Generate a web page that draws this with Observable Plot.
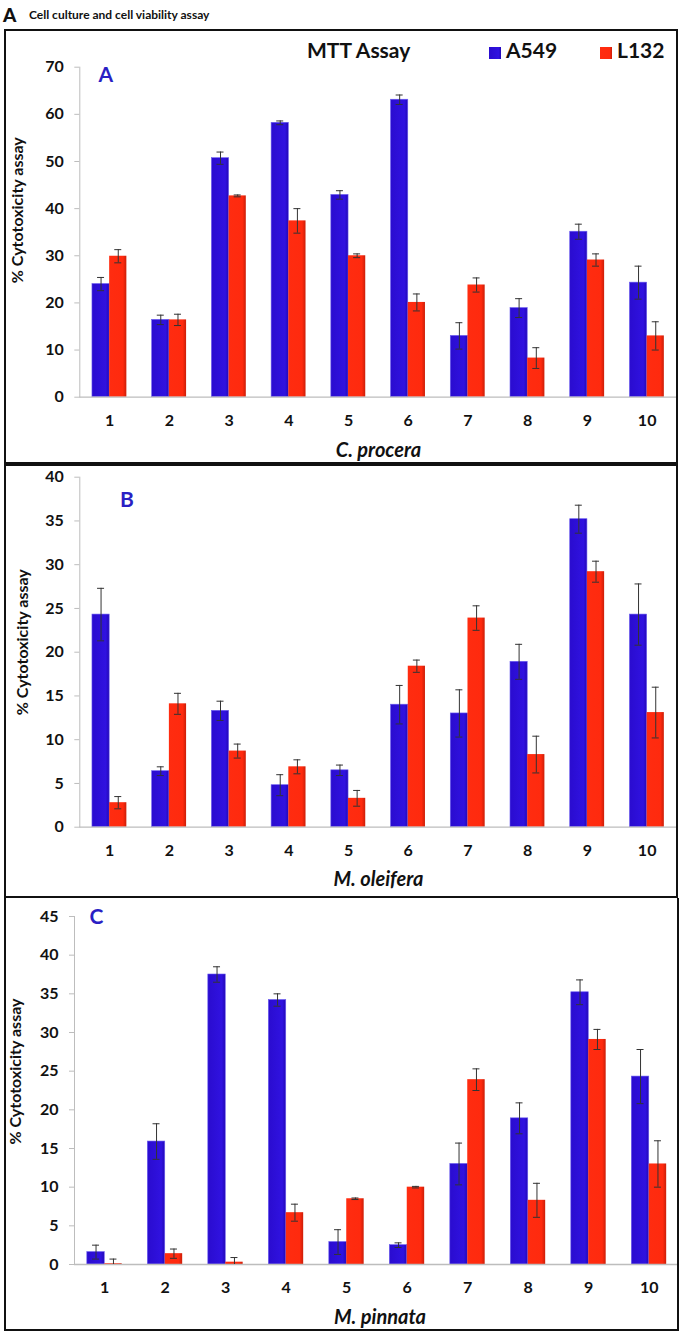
<!DOCTYPE html>
<html><head><meta charset="utf-8">
<script src="https://cdn.jsdelivr.net/npm/d3@7"></script>
<script src="https://cdn.jsdelivr.net/npm/@observablehq/plot@0.6"></script>
<style>
html,body{margin:0;padding:0;background:#fff;overflow:hidden;}
body{width:682px;height:1333px;position:relative;font-family:Lato,"Open Sans",sans-serif;color:#111;}
.abs{position:absolute;white-space:nowrap;}
.box{position:absolute;box-sizing:border-box;border:2px solid #111;pointer-events:none;z-index:5;}
.wrap{position:absolute;left:0;width:682px;}
.lg{font-weight:bold;font-size:21px;line-height:24px;z-index:6;}
.sq{position:absolute;width:12px;height:12px;z-index:6;}
</style></head><body>
<svg width="0" height="0" style="position:absolute">
<defs>
<linearGradient id="gBlue" x1="0" x2="1" y1="0" y2="0">
<stop offset="0" stop-color="#2a0ccf"/><stop offset="0.8" stop-color="#3012e0"/><stop offset="1" stop-color="#2308b8"/>
</linearGradient>
<linearGradient id="gRed" x1="0" x2="1" y1="0" y2="0">
<stop offset="0" stop-color="#ff2c10"/><stop offset="0.8" stop-color="#ff2a0e"/><stop offset="1" stop-color="#cc1e08"/>
</linearGradient>
</defs></svg>

<div class="abs" style="left:3px;top:3px;font-weight:900;font-size:19px;line-height:24px;">A</div>
<div class="abs" style="left:29px;top:7px;font-weight:bold;font-size:12px;line-height:15px;">Cell culture and cell viability assay</div>

<div id="pA" class="wrap" style="top:29px"></div>
<div id="pB" class="wrap" style="top:466px"></div>
<div id="pC" class="wrap" style="top:898px"></div>

<div class="box" style="left:4px;top:29px;width:674px;height:437px;border-bottom-width:4px;"></div>
<div class="box" style="left:4px;top:466px;width:674px;height:432px;border-top-width:0;"></div>
<div class="box" style="left:4px;top:898px;width:675px;height:433px;border-top-width:0;"></div>

<div class="abs lg" style="left:307px;top:38px;">MTT Assay</div>
<div class="sq" style="left:489px;top:47px;background:linear-gradient(90deg,#2a0ccf,#3012e0 80%,#2308b8);"></div>
<div class="abs lg" style="left:506px;top:38px;">A549</div>
<div class="sq" style="left:600px;top:47px;background:linear-gradient(90deg,#ff2c10,#ff2a0e 80%,#cc1e08);"></div>
<div class="abs lg" style="left:617px;top:38px;">L132</div>

<script>
const categories = ["1","2","3","4","5","6","7","8","9","10"];

// Panel A – C. procera
const a549_procera     = [24.0, 16.4, 50.7, 58.2, 42.9, 63.1, 13.0, 18.9, 35.1, 24.3];
const a549_procera_err = [1.4, 1.0, 1.3, 0.4, 0.9, 1.0, 2.8, 2.0, 1.6, 3.5];
const l132_procera     = [29.9, 16.4, 42.7, 37.4, 30.0, 20.1, 23.8, 8.3, 29.1, 13.0];
const l132_procera_err = [1.4, 1.2, 0.2, 2.6, 0.4, 1.8, 1.5, 2.2, 1.3, 3.0];

// Panel B – M. oleifera
const a549_oleifera     = [24.3, 6.4, 13.3, 4.8, 6.5, 14.0, 13.0, 18.9, 35.2, 24.3];
const a549_oleifera_err = [3.0, 0.5, 1.1, 1.2, 0.6, 2.2, 2.7, 2.0, 1.6, 3.5];
const l132_oleifera     = [2.8, 14.1, 8.7, 6.9, 3.3, 18.4, 23.9, 8.3, 29.2, 13.1];
const l132_oleifera_err = [0.7, 1.2, 0.8, 0.8, 0.9, 0.7, 1.4, 2.1, 1.2, 2.9];

// Panel C – M. pinnata
const a549_pinnata     = [1.6, 15.9, 37.5, 34.2, 2.9, 2.5, 13.0, 18.9, 35.2, 24.3];
const a549_pinnata_err = [0.9, 2.3, 1.0, 0.8, 1.6, 0.3, 2.7, 2.0, 1.6, 3.5];
const l132_pinnata     = [0.1, 1.4, 0.3, 6.7, 8.5, 10.0, 23.9, 8.3, 29.1, 13.0];
const l132_pinnata_err = [0.6, 0.6, 0.6, 1.1, 0.1, 0.1, 1.4, 2.2, 1.3, 3.0];

const yTitle = "% Cytotoxicity assay";

function panel(o) {
  const rows = categories.map((c, i) => ({cat: c, a: o.a549[i], ae: o.a549Err[i], l: o.l132[i], le: o.l132Err[i]}));
  const W = 682, n = categories.length, pad = 0.424;
  const step = (W - o.ml - o.mr) / n;
  const bw = step * (1 - pad), half = bw / 2, cap = 7;
  const capIn = half / 2 - cap / 2;
  const err = "#333";
  return Plot.plot({
    width: W, height: o.height,
    marginTop: o.mt, marginBottom: o.mb, marginLeft: o.ml, marginRight: o.mr,
    x: {domain: categories, paddingInner: pad, paddingOuter: pad / 2, round: false, label: null},
    y: {domain: [0, o.yMax], label: null},
    style: {fontFamily: "Lato, 'Open Sans', sans-serif", fontSize: "16px", fontWeight: "bold", background: "transparent", color: "#111"},
    marks: [
      Plot.barY(rows, {x: "cat", y: "a", fill: "url(#gBlue)", insetRight: half, stroke: "#6a5cf0", strokeWidth: 0.6}),
      Plot.barY(rows, {x: "cat", y: "l", fill: "url(#gRed)", insetLeft: half}),
      Plot.ruleY([0], {stroke: "#bdbdbd", strokeWidth: 1.3}),
      Plot.frame({anchor: "left", stroke: "#bdbdbd"}),
      Plot.ruleX(rows, {x: "cat", y1: d => d.a - d.ae, y2: d => d.a + d.ae, dx: -half / 2, stroke: err}),
      Plot.tickY(rows, {x: "cat", y: d => d.a + d.ae, insetLeft: capIn, insetRight: half + capIn, stroke: err}),
      Plot.tickY(rows, {x: "cat", y: d => d.a - d.ae, insetLeft: capIn, insetRight: half + capIn, stroke: err}),
      Plot.ruleX(rows, {x: "cat", y1: d => Math.max(0, d.l - d.le), y2: d => d.l + d.le, dx: half / 2, stroke: err}),
      Plot.tickY(rows, {x: "cat", y: d => d.l + d.le, insetLeft: half + capIn, insetRight: capIn, stroke: err}),
      Plot.tickY(rows.filter(d => d.l - d.le > 0), {x: "cat", y: d => d.l - d.le, insetLeft: half + capIn, insetRight: capIn, stroke: err}),
      Plot.axisY({ticks: o.yTicks, tickSize: 5, tickPadding: 11, stroke: "#bdbdbd", fill: "#111", label: null}),
      Plot.axisX({tickSize: 0, tickPadding: 17, fill: "#111", label: null}),
      Plot.text([o.letter], {text: d => d, frameAnchor: "top-left", dx: o.letterDx, dy: o.letterDy, fontSize: 21, fontWeight: "bold", fill: "#2a1fc4", textAnchor: "middle", lineAnchor: "middle"}),
      Plot.text([yTitle], {text: d => d, frameAnchor: "left", rotate: -90, dx: o.ytDx, dy: o.ytDy, fontSize: 16, fontWeight: "bold", fill: "#111", textAnchor: "middle", lineAnchor: "middle"}),
      Plot.text([o.species], {text: d => d, frameAnchor: "bottom", dx: o.spDx, dy: o.spDy, fontSize: 20, fontWeight: "bold", fontStyle: "italic", fill: "#111", textAnchor: "middle", lineAnchor: "middle"})
    ]
  });
}

document.getElementById("pA").append(panel({
  height: 437, mt: 37.7, mb: 69.3, ml: 79.3, mr: 5.5, yMax: 70, yTicks: d3.range(0, 71, 10),
  a549: a549_procera, a549Err: a549_procera_err, l132: l132_procera, l132Err: l132_procera_err,
  letter: "A", letterDx: 26, letterDy: 8, ytDx: -62, ytDy: -22, species: "C. procera", spDx: 0, spDy: 53
}));
document.getElementById("pB").append(panel({
  height: 432, mt: 10.7, mb: 71.3, ml: 79.3, mr: 5.5, yMax: 40, yTicks: d3.range(0, 41, 5),
  a549: a549_oleifera, a549Err: a549_oleifera_err, l132: l132_oleifera, l132Err: l132_oleifera_err,
  letter: "B", letterDx: 47, letterDy: 23, ytDx: -57, ytDy: -10, species: "M. oleifera", spDx: 0, spDy: 52
}));
document.getElementById("pC").append(panel({
  height: 435, mt: 18, mb: 69, ml: 74, mr: 3, yMax: 45, yTicks: d3.range(0, 46, 5),
  a549: a549_pinnata, a549Err: a549_pinnata_err, l132: l132_pinnata, l132Err: l132_pinnata_err,
  letter: "C", letterDx: 22, letterDy: 1, ytDx: -59, ytDy: -19, species: "M. pinnata", spDx: 3, spDy: 53
}));
</script>
</body></html>
